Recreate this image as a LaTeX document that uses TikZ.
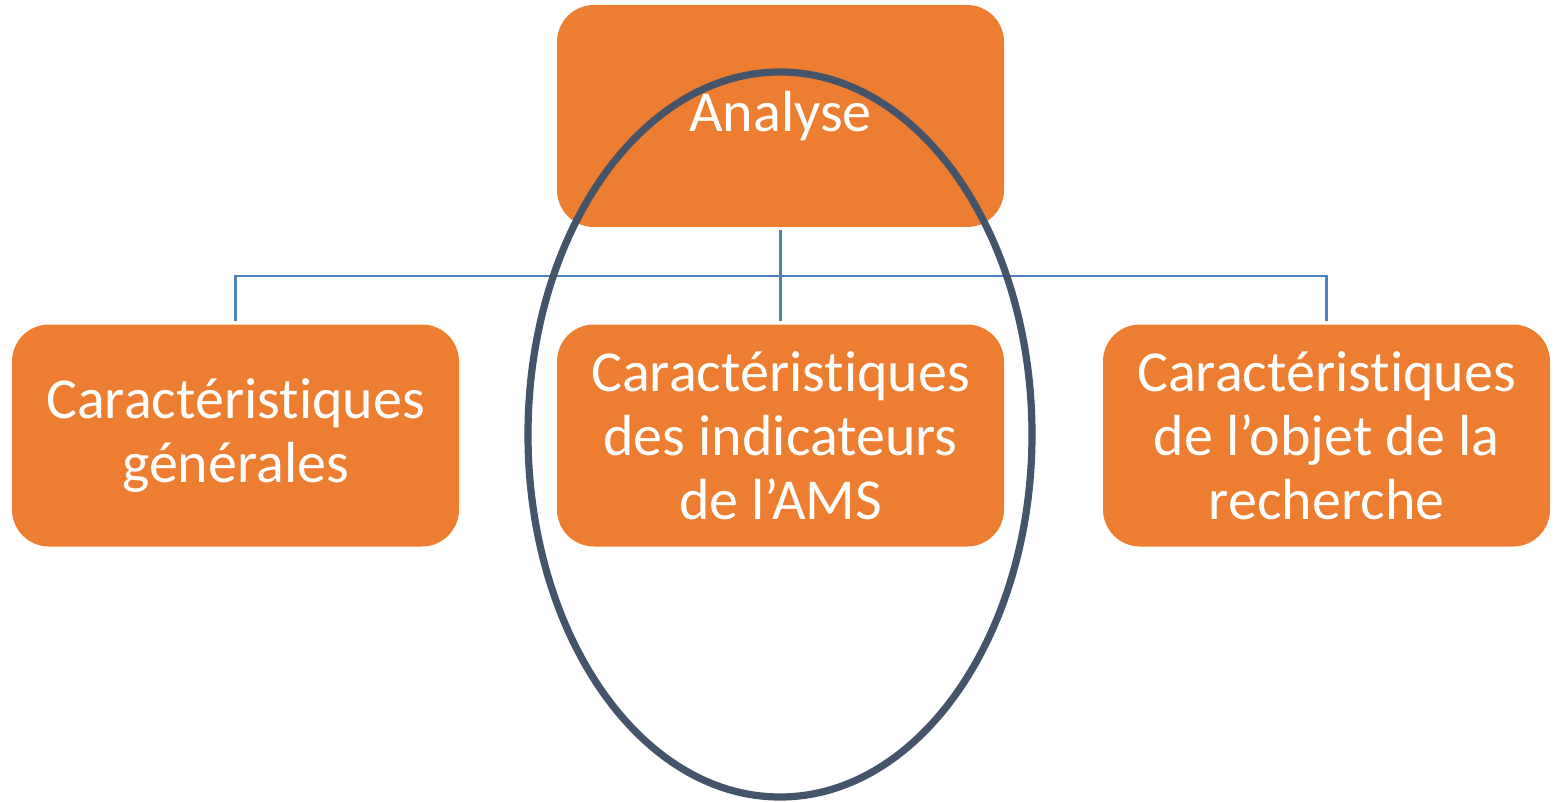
\documentclass[tikz,border=0pt]{standalone}
\usepackage{fontspec}
\setmainfont[Ligatures={TeX,NoCommon}]{Carlito}
\usetikzlibrary{shapes.geometric,positioning}

\definecolor{boxorange}{HTML}{ED7D31}
\definecolor{linkblue}{HTML}{4F81BD}
\definecolor{ringslate}{HTML}{44546A}

\tikzset{
	box/.style={fill=boxorange, rounded corners=18.5pt, minimum width=223.5pt, minimum height=111pt,
		inner sep=0pt, align=center, text=white, font=\fontsize{29}{32}\selectfont},
	link/.style={draw=linkblue, line width=1.2pt, shorten <=1.5pt, shorten >=1.5pt},
	ring/.style={ellipse, draw=ringslate, line width=3.6pt, minimum width=252pt, minimum height=362.5pt, inner sep=0pt}
}

\begin{document}
\begin{tikzpicture}[x=0.5pt,y=-0.5pt]
	\useasboundingbox (0,0) rectangle (1558,802);

	\node[box] (analyse)	at (780.5,116)		{Analyse};
	\node[box] (gen)		at (235.5,435.5)	{Caractéristiques\\générales};
	\node[box] (ind)		at (780.5,435.5)	{Caractéristiques\\des indicateurs\\de l'AMS};
	\node[box] (obj)		at (1326.5,435.5)	{Caractéristiques\\de l'objet de la\\recherche};

	\coordinate (bus)		at (780.5,276);

	\draw[link]		(analyse.south) -- (bus) -| (gen.north);
	\draw[link]		(analyse.south) -- (ind.north);
	\draw[link]		(analyse.south) -- (bus) -| (obj.north);

	\node[ring] (focus)		at (780,434.5)		{};
\end{tikzpicture}
\end{document}
